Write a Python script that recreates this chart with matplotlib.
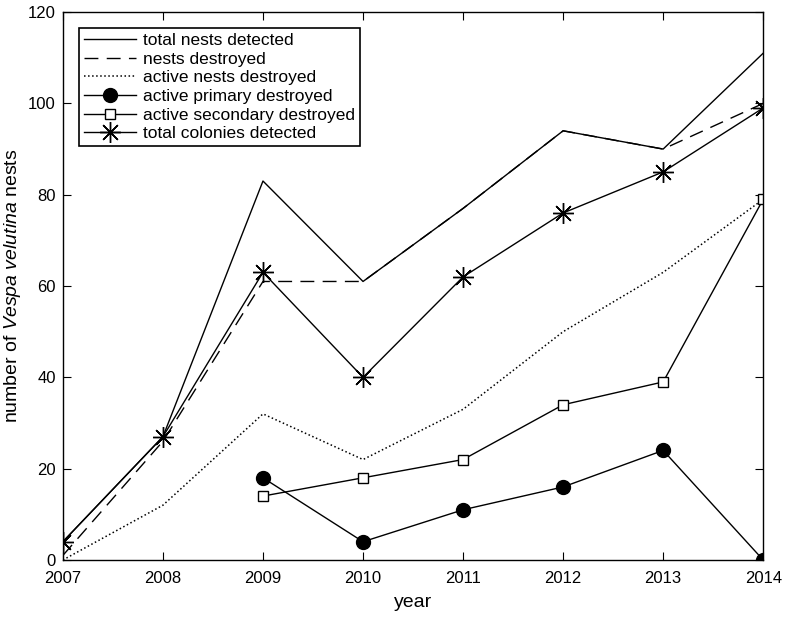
import matplotlib
matplotlib.use('Agg')
import matplotlib.pyplot as plt

plt.rcParams['font.family'] = ['Liberation Sans', 'DejaVu Sans']
plt.rcParams['mathtext.fontset'] = 'custom'
plt.rcParams['mathtext.it'] = 'Liberation Sans:italic'
plt.rcParams['mathtext.rm'] = 'Liberation Sans'

years = [2007, 2008, 2009, 2010, 2011, 2012, 2013, 2014]
total_nests = [4, 27, 83, 61, 77, 94, 90, 111]
nests_destroyed = [1, 26, 61, 61, 77, 94, 90, 100]
active_destroyed = [0, 12, 32, 22, 33, 50, 63, 79]
years_active = [2009, 2010, 2011, 2012, 2013, 2014]
primary_destroyed = [18, 4, 11, 16, 24, 0]
secondary_destroyed = [14, 18, 22, 34, 39, 79]
total_colonies = [4, 27, 63, 40, 62, 76, 85, 99]

fig = plt.figure(figsize=(7.86, 6.17), dpi=100)
ax = fig.add_axes([0.080, 0.0924, 0.891, 0.888])

ax.plot(years, total_nests, 'k-', lw=1, label='total nests detected')
ax.plot(years, nests_destroyed, 'k--', lw=1, dashes=(10, 6), label='nests destroyed')
ax.plot(years, active_destroyed, 'k:', lw=1.1, label='active nests destroyed')
ax.plot(years_active, primary_destroyed, 'k-', lw=1, marker='o', ms=10,
        label='active primary destroyed')
ax.plot(years_active, secondary_destroyed, 'k-', lw=1, marker='s', ms=7.5,
        mfc='white', mew=1, label='active secondary destroyed')
ax.plot(years, total_colonies, 'k-', lw=1, marker=(8, 2, 0), ms=15, mew=1,
        label='total colonies detected')

ax.set_xlim(2007, 2014)
ax.set_ylim(0, 120)
ax.set_xticks(years)
ax.set_yticks(range(0, 121, 20))
ax.tick_params(direction='in', top=True, right=True, labelsize=12, length=6)
ax.tick_params(axis='x', pad=8)
ax.tick_params(axis='y', pad=5)
for s in ax.spines.values():
    s.set_linewidth(1)

ax.set_xlabel('year', fontsize=14, labelpad=6)
ax.set_ylabel(r'number of $\it{Vespa\ velutina}$ nests', fontsize=14)

leg = ax.legend(loc='upper left', fontsize=12.5, fancybox=False, framealpha=1,
                edgecolor='black', handlelength=3.0, borderaxespad=0.9,
                labelspacing=0.2, handletextpad=0.4, borderpad=0.3)
leg.get_frame().set_linewidth(1.2)

fig.savefig('out.png', dpi=100)
